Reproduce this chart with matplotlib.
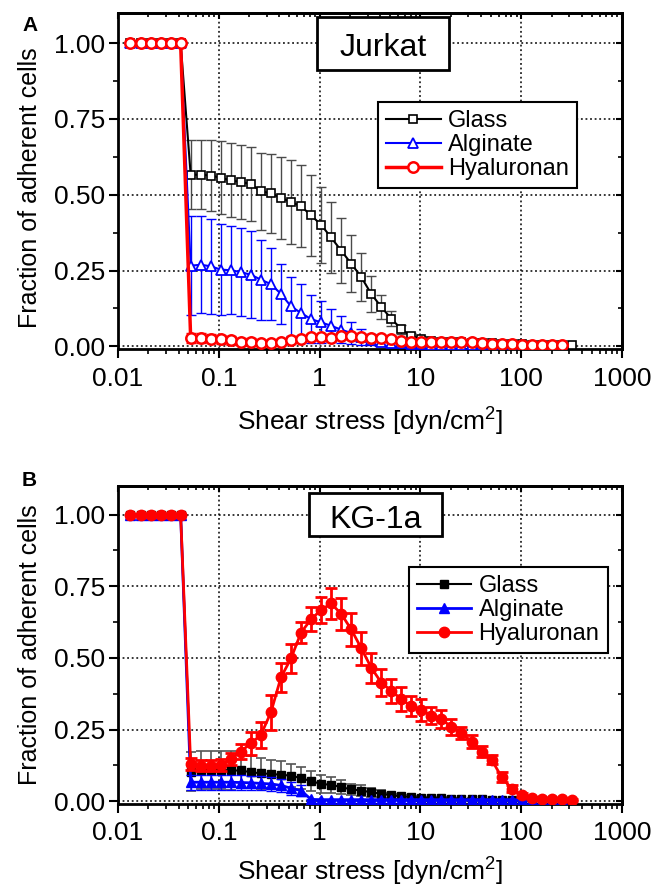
import numpy as np
import matplotlib
matplotlib.use("Agg")
import matplotlib.pyplot as plt
from matplotlib.ticker import LogLocator, NullFormatter, FixedLocator, MultipleLocator
from matplotlib.patches import Rectangle

plt.rcParams['font.family'] = ['Liberation Sans', 'DejaVu Sans']
plt.rcParams['mathtext.fontset'] = 'custom'
plt.rcParams['mathtext.rm'] = 'Liberation Sans'

# ---------------- data ----------------
shear_stress = [0.0133, 0.01672, 0.02103, 0.02645, 0.03326, 0.04182, 0.05259, 0.06613,
                0.08316, 0.1046, 0.1315, 0.1654, 0.2080, 0.2615, 0.3289, 0.4136, 0.5201,
                0.6540, 0.8224, 1.034, 1.300, 1.635, 2.056, 2.586, 3.252, 4.089, 5.142,
                6.466, 8.131, 10.22, 12.86, 16.17, 20.33, 25.57, 32.15, 40.43, 50.84,
                63.93, 80.39, 101.1, 127.1, 159.8, 201.0, 252.8, 317.8]

x_tick_values = [0.01, 0.1, 1, 10, 100, 1000]
x_tick_labels = ['0.01', '0.1', '1', '10', '100', '1000']
y_tick_values = [0.0, 0.25, 0.5, 0.75, 1.0]
y_tick_labels = ['0.00', '0.25', '0.50', '0.75', '1.00']
series_names = ['Glass', 'Alginate', 'Hyaluronan']
panel_titles = ['Jurkat', 'KG-1a']

nan = float('nan')

# Panel A (Jurkat)
jurkat_glass = [1, 1, 1, 1, 1, 1, 0.566, 0.566, 0.563, 0.556, 0.547, 0.542, 0.535, 0.511,
                0.505, 0.489, 0.476, 0.462, 0.432, 0.401, 0.359, 0.316, 0.273, 0.229, 0.173,
                0.130, 0.091, 0.057, 0.033, 0.025, 0.019, 0.016, 0.014, 0.013, 0.012, 0.011,
                0.010, 0.009, 0.008, 0.007, 0.006, 0.005, 0.004, 0.004, 0.003]
jurkat_glass_err = [0, 0, 0, 0, 0, 0, 0.113, 0.113, 0.116, 0.120, 0.122, 0.122, 0.122, 0.128,
                    0.130, 0.135, 0.137, 0.135, 0.134, 0.126, 0.118, 0.108, 0.094, 0.080, 0.060,
                    0.040, 0.025, 0.015, 0.010, 0.008, 0.006, 0.005, 0.005, 0.005, 0.004, 0.004,
                    0.004, 0.004, 0.003, 0.003, 0.003, 0.003, 0.003, 0.003, 0.003]
jurkat_alginate = [1, 1, 1, 1, 1, 1, 0.266, 0.269, 0.264, 0.253, 0.251, 0.245, 0.236, 0.220,
                   0.205, 0.173, 0.132, 0.110, 0.090, 0.079, 0.068, 0.055, 0.044, 0.031, 0.022,
                   0.016, 0.012, 0.010, 0.008, 0.007, 0.006, 0.005, 0.005, 0.004, 0.004, 0.004,
                   0.003, 0.003, 0.003, 0.003, 0.002, 0.002, 0.002, 0.002, nan]
jurkat_alginate_err = [0, 0, 0, 0, 0, 0, 0.164, 0.160, 0.156, 0.151, 0.145, 0.145, 0.143, 0.132,
                       0.119, 0.100, 0.097, 0.097, 0.080, 0.069, 0.055, 0.044, 0.036, 0.025,
                       0.018, 0.013, 0.010, 0.008, 0.006, 0.006, 0.005, 0.005, 0.004, 0.004,
                       0.004, 0.003, 0.003, 0.003, 0.003, 0.003, 0.003, 0.003, 0.003, 0.003, nan]
jurkat_hyaluronan = [1, 1, 1, 1, 1, 1, 0.027, 0.027, 0.025, 0.024, 0.020, 0.016, 0.014, 0.011,
                     0.011, 0.014, 0.022, 0.025, 0.031, 0.030, 0.027, 0.033, 0.033, 0.031, 0.027,
                     0.027, 0.024, 0.019, 0.016, 0.016, 0.014, 0.013, 0.013, 0.013, 0.013, 0.011,
                     0.009, 0.009, 0.008, 0.005, 0.003, 0.003, 0.003, 0.003, nan]
jurkat_hyaluronan_err = [0, 0, 0, 0, 0, 0, 0.017, 0.016, 0.015, 0.015, 0.014, 0.013, 0.012,
                         0.011, 0.010, 0.010, 0.010, 0.010, 0.010, 0.010, 0.010, 0.010, 0.010,
                         0.010, 0.010, 0.009, 0.009, 0.008, 0.008, 0.008, 0.007, 0.007, 0.007,
                         0.007, 0.006, 0.006, 0.006, 0.005, 0.005, 0.004, 0.004, 0.004, 0.004,
                         0.004, nan]

# Panel B (KG-1a)
kg_glass = [1, 1, 1, 1, 1, 1, 0.103, 0.110, 0.110, 0.109, 0.107, 0.107, 0.101, 0.097, 0.095,
            0.092, 0.089, 0.080, 0.070, 0.060, 0.057, 0.049, 0.041, 0.037, 0.031, 0.026, 0.020,
            0.017, 0.014, 0.012, 0.011, 0.010, 0.009, 0.008, 0.007, 0.006, 0.005, 0.005, 0.004,
            0.004, 0.003, 0.003, 0.003, 0.002, nan]
kg_glass_err = [0, 0, 0, 0, 0, 0, 0.068, 0.066, 0.066, 0.067, 0.067, 0.060, 0.055, 0.054, 0.050,
                0.048, 0.040, 0.038, 0.035, 0.030, 0.028, 0.025, 0.020, 0.018, 0.015, 0.012,
                0.010, 0.008, 0.006, 0.005, 0.005, 0.004, 0.004, 0.004, 0.003, 0.003, 0.003,
                0.003, 0.003, 0.002, 0.002, 0.002, 0.002, 0.002, nan]
kg_alginate = [1, 1, 1, 1, 1, 1, 0.066, 0.066, 0.066, 0.066, 0.066, 0.065, 0.064, 0.062, 0.060,
               0.055, 0.045, 0.037, 0.006, 0.005, 0.005, 0.005, 0.005, 0.005, 0.005, 0.005,
               0.005, 0.005, 0.005, 0.005, 0.005, 0.005, 0.005, 0.005, 0.005, 0.005, 0.005,
               0.005, 0.005, 0.005, 0.005, 0.005, 0.005, 0.005, nan]
kg_alginate_err = [0, 0, 0, 0, 0, 0, 0.026, 0.026, 0.026, 0.026, 0.026, 0.025, 0.025, 0.024,
                   0.024, 0.023, 0.022, 0.020, 0.003, 0.003, 0.003, 0.003, 0.003, 0.003, 0.003,
                   0.003, 0.003, 0.003, 0.003, 0.003, 0.003, 0.003, 0.003, 0.003, 0.003, 0.003,
                   0.003, 0.003, 0.003, 0.003, 0.003, 0.003, 0.003, 0.003, nan]
kg_hyaluronan = [1, 1, 1, 1, 1, 1, 0.130, 0.124, 0.124, 0.126, 0.147, 0.173, 0.202, 0.231,
                 0.310, 0.432, 0.498, 0.588, 0.635, 0.667, 0.690, 0.654, 0.600, 0.534, 0.466,
                 0.414, 0.385, 0.356, 0.331, 0.319, 0.298, 0.287, 0.258, 0.238, 0.208, 0.173,
                 0.145, 0.084, 0.043, 0.022, 0.010, 0.006, 0.006, 0.006, 0.005]
kg_hyaluronan_err = [0, 0, 0, 0, 0, 0, 0.020, 0.018, 0.018, 0.020, 0.022, 0.025, 0.040, 0.046,
                     0.060, 0.050, 0.050, 0.036, 0.042, 0.044, 0.054, 0.055, 0.057, 0.058,
                     0.052, 0.046, 0.043, 0.041, 0.035, 0.038, 0.030, 0.030, 0.028, 0.022,
                     0.022, 0.020, 0.016, 0.016, 0.012, 0.006, 0.004, 0.003, 0.003, 0.003, 0.003]

# ---------------- figure ----------------
W, H = 663, 888
fig = plt.figure(figsize=(W / 100, H / 100), dpi=100)

def px_axes(left, top, right, bottom):
    return fig.add_axes([left / W, 1 - bottom / H, (right - left) / W, (bottom - top) / H])

axA = px_axes(118, 12.7, 622, 349.4)
axB = px_axes(118, 486, 622, 804)
AX_H = {axA: 349.4 - 12.7, axB: 804 - 486}

x = np.array(shear_stress)


def style_axes(ax, label_offset_px, ylabel_center):
    ax.set_xscale('log')
    ax.set_xlim(0.01, 1000)
    ax.set_ylim(-0.01, 1.10)
    ax.xaxis.set_major_locator(FixedLocator(x_tick_values))
    ax.set_xticklabels(x_tick_labels)
    ax.xaxis.set_minor_locator(LogLocator(base=10, subs=np.arange(2, 10)))
    ax.xaxis.set_minor_formatter(NullFormatter())
    ax.set_yticks(y_tick_values)
    ax.set_yticklabels(y_tick_labels)
    ax.yaxis.set_minor_locator(MultipleLocator(0.125))
    ax.tick_params(which='major', direction='out', length=6.5, width=1.5, labelsize=19)
    ax.tick_params(axis='x', which='major', pad=6)
    ax.tick_params(axis='y', which='major', pad=3)
    ax.tick_params(which='minor', direction='out', length=3.5, width=1.2)
    ax.tick_params(top=False, right=False, which='both')
    for s in ax.spines.values():
        s.set_linewidth(2)
    ax.grid(True, which='major', color='black', linestyle=(0, (1.2, 1.8)), linewidth=1.1)
    ax.set_axisbelow(True)
    ax.set_xlabel('Shear stress [dyn/cm$\\mathregular{^2}$]', fontsize=19)
    ax.set_ylabel('Fraction of adherent cells', fontsize=18)
    ax.xaxis.set_label_coords(0.5, -label_offset_px / AX_H[ax])
    ax.yaxis.set_label_coords(-0.150, ylabel_center)
    # inward ticks on top and right
    top = ax.secondary_xaxis('top')
    top.xaxis.set_major_locator(FixedLocator(x_tick_values))
    top.xaxis.set_minor_locator(LogLocator(base=10, subs=np.arange(2, 10)))
    top.tick_params(which='major', direction='in', length=4, width=1.5, labeltop=False)
    top.tick_params(which='minor', direction='in', length=3, width=1.2)
    top.xaxis.set_major_formatter(NullFormatter())
    top.xaxis.set_minor_formatter(NullFormatter())
    right = ax.secondary_yaxis('right')
    right.set_yticks(y_tick_values)
    right.yaxis.set_minor_locator(MultipleLocator(0.125))
    right.tick_params(which='major', direction='in', length=4, width=1.5, labelright=False)
    right.tick_params(which='minor', direction='in', length=3, width=1.2)
    for sec in (top, right):
        for s in sec.spines.values():
            s.set_linewidth(2)


def draw_series(ax, y, err, color, ecolor, marker, ms, mfc, mew, lw, elw, cap, label, z):
    y = np.array(y, dtype=float)
    e = np.array(err, dtype=float)
    m = np.nan_to_num(e) > 0
    ax.errorbar(x[m], y[m], yerr=e[m], fmt='none', ecolor=ecolor, elinewidth=elw,
                capsize=cap, capthick=elw, zorder=z)
    line, = ax.plot(x, y, color=color, lw=lw, marker=marker, ms=ms, mfc=mfc, mec=color,
                    mew=mew, label=label, zorder=z + 0.5)
    return line


# Panel A
hA = []
hA.append(draw_series(axA, jurkat_glass, jurkat_glass_err, 'black', '#4a4a4a', 's', 5.5,
                      'white', 1.2, 1.5, 1.0, 3.5, series_names[0], 3))
hA.append(draw_series(axA, jurkat_alginate, jurkat_alginate_err, '#0000ff', '#0000ff', '^', 7.5,
                      'white', 1.3, 1.5, 1.0, 3.5, series_names[1], 4))
hA.append(draw_series(axA, jurkat_hyaluronan, jurkat_hyaluronan_err, '#ff0000', '#ff0000', 'o', 7.5,
                      'white', 1.8, 2.5, 1.0, 3.5, series_names[2], 5))
style_axes(axA, 56, 0.48)

# Panel B
hB = []
hB.append(draw_series(axB, kg_glass, kg_glass_err, 'black', '#555555', 's', 5.5,
                      'black', 1.0, 1.5, 1.2, 3.5, series_names[0], 3))
hB.append(draw_series(axB, kg_alginate, kg_alginate_err, '#0000ff', '#0000ff', '^', 7.5,
                      '#0000ff', 1.0, 2.0, 1.0, 3.5, series_names[1], 4))
hB.append(draw_series(axB, kg_hyaluronan, kg_hyaluronan_err, '#ff0000', '#ff0000', 'o', 7.5,
                      '#ff0000', 1.0, 2.0, 2.0, 4.0, series_names[2], 5))
style_axes(axB, 52, 0.5)

# Legends
for ax, handles, anchor in ((axA, hA, (0.516, 0.735)), (axB, hB, (0.577, 0.745))):
    leg = ax.legend(handles=handles, loc='upper left', bbox_to_anchor=anchor, fontsize=17,
                    frameon=True, fancybox=False, framealpha=1, edgecolor='black',
                    handlelength=2.3, handletextpad=0.3, labelspacing=0.08, borderpad=0.35,
                    borderaxespad=0)
    leg.get_frame().set_linewidth(1.5)
    leg.set_zorder(10)

# Title boxes (axes fraction positions)
for ax, title, box, tx, ty in ((axA, panel_titles[0], (0.395, 0.830, 0.262, 0.157), 0.526, 0.871),
                               (axB, panel_titles[1], (0.379, 0.843, 0.264, 0.135), 0.512, 0.867)):
    ax.add_patch(Rectangle(box[:2], box[2], box[3], transform=ax.transAxes, facecolor='white',
                           edgecolor='black', linewidth=2, zorder=11, clip_on=False))
    ax.text(tx, ty, title, transform=ax.transAxes, ha='center', va='baseline', fontsize=23,
            zorder=12)

# Panel letters
fig.text(22 / W, 1 - 31 / H, 'A', fontsize=15, fontweight='bold', ha='left', va='baseline')
fig.text(22 / W, 1 - 486 / H, 'B', fontsize=15, fontweight='bold', ha='left', va='baseline')

fig.savefig('out.png', dpi=100)
